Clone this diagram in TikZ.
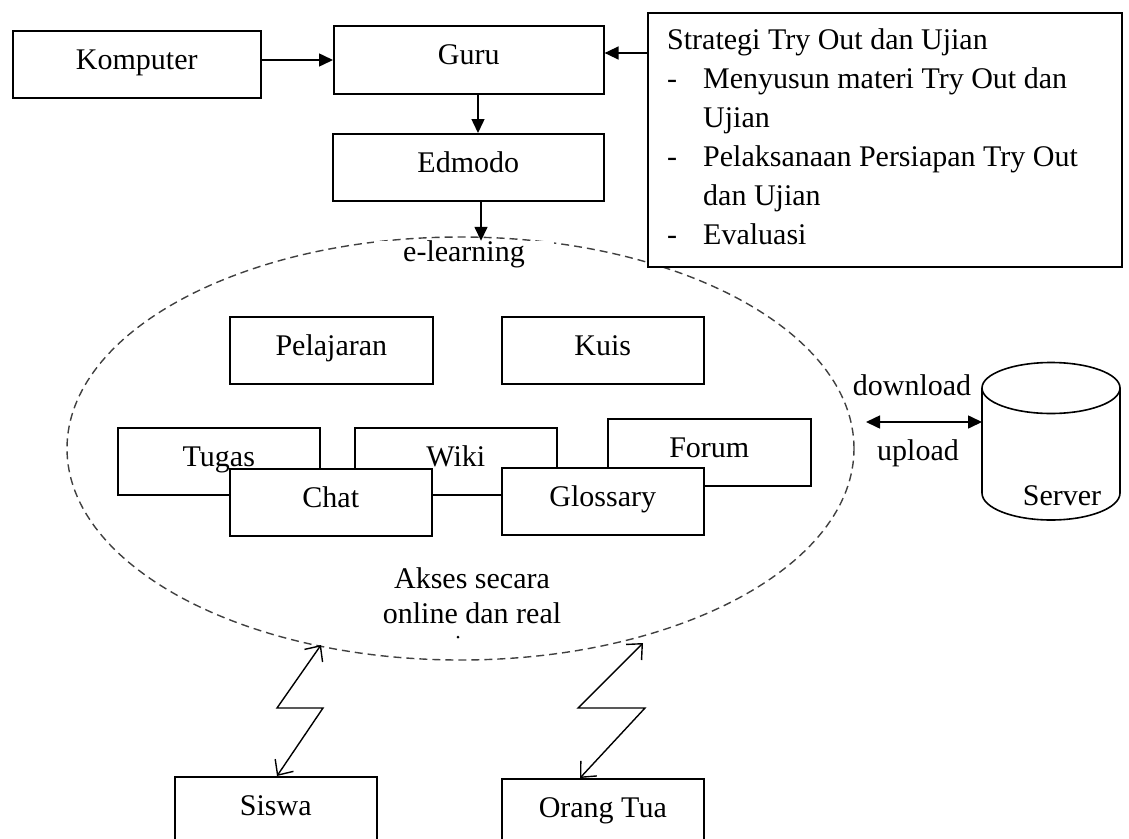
\documentclass[tikz,border=0pt]{standalone}
\usepackage{fontspec}
\setmainfont{Liberation Serif}
\usetikzlibrary{arrows.meta}
\begin{document}
\begin{tikzpicture}[x=1pt,y=-1pt,
  font=\fontsize{30}{36}\selectfont,
  bx/.style={draw, line width=1.6pt, fill=white, inner sep=0pt, anchor=north west,
             text height=20pt, text depth=10pt, minimum height=67pt},
  arr/.style={line width=1.5pt, -{Triangle[length=14pt,width=13pt]}},
  dbl/.style={line width=1.6pt, {Triangle[length=14pt,width=13pt]}-{Triangle[length=14pt,width=13pt]}},
  zz/.style={line width=1.4pt, {Straight Barb[length=12pt,width=22pt]}-{Straight Barb[length=12pt,width=22pt]}},
  st/.style={anchor=base west, inner sep=0pt},
  lbl/.style={anchor=base, inner sep=0pt}]
\useasboundingbox (0,0) rectangle (1129,838);
\clip (0,0) rectangle (1129,838);
% e-learning area
\draw[black!75, line width=1.4pt, dash pattern=on 8pt off 5pt]
  (460.5,448.5) ellipse [x radius=393.5pt, y radius=211.5pt];
\node[fill=white, inner sep=0pt, minimum width=180pt, text height=20pt, text depth=8pt, anchor=base] (elearn) at (464,261) {e-learning};
% top boxes
\node[bx, minimum width=248pt] (komp) at (12,30) {Komputer};
\node[bx, minimum width=270pt, minimum height=68pt] (guru) at (333,25) {Guru};
\node[bx, minimum width=271pt] (edmodo) at (332,133) {Edmodo};
\node[draw, line width=1.6pt, fill=white, anchor=north west, minimum width=474pt, minimum height=254pt, inner sep=0pt] (strat) at (647,12) {};
\node[st] (s1) at (667,49) {Strategi Try Out dan Ujian};
\node[st] (d1) at (667,88) {-};
\node[st] (s2) at (703,88) {Menyusun materi Try Out dan};
\node[st] (s3) at (703,127) {Ujian};
\node[st] (d2) at (667,166) {-};
\node[st] (s4) at (703,166) {Pelaksanaan Persiapan Try Out};
\node[st] (s5) at (703,205) {dan Ujian};
\node[st] (d3) at (667,244) {-};
\node[st] (s6) at (703,244) {Evaluasi};
% helper coordinates
\coordinate (cy60) at (0,60);
\coordinate (cy53) at (0,53);
\coordinate (cx478) at (478,0);
\coordinate (cx481) at (481,0);
\draw[arr] (komp.east |- cy60) -- (guru.west |- cy60);
\draw[arr] (strat.west |- cy53) -- (guru.east |- cy53);
\draw[arr] (guru.south -| cx478) -- (edmodo.north -| cx478);
\draw[arr] (edmodo.south -| cx481) -- (elearn.north -| cx481);
% inner boxes
\node[bx, minimum width=203pt] (pel) at (229,316) {Pelajaran};
\node[bx, minimum width=202pt] (kuis) at (501,316) {Kuis};
\node[bx, minimum width=202pt] (tugas) at (117,427) {Tugas};
\node[bx, minimum width=202pt] (wiki) at (354,427) {Wiki};
\node[bx, minimum width=203pt] (forum) at (607,418) {Forum};
\node[bx, minimum width=202pt] (chat) at (229,468) {Chat};
\node[bx, minimum width=202pt] (gloss) at (501,467) {Glossary};
\node[lbl] (ak1) at (472,588) {Akses secara};
\node[lbl] (ak2) at (472,623) {online dan real};
\fill (458,637) circle (1.5pt);
% server
\draw[line width=1.6pt, fill=white] (982,388) -- (982,493)
  arc[start angle=180, end angle=360, x radius=69pt, y radius=27pt] -- (1120,388);
\draw[line width=1.6pt, fill=white] (1051,388) ellipse [x radius=69pt, y radius=25.5pt];
\node[lbl] (srvtxt) at (1062,505) {Server};
\coordinate (srv) at (982,422);
\coordinate (dl) at (866,422);
\draw[dbl] (dl) -- (srv);
\node[lbl] (down) at (912,395) {download};
\node[lbl] (up) at (918,460) {upload};
% bottom boxes
\node[bx, minimum width=202pt] (siswa) at (174,776) {Siswa};
\node[bx, minimum width=202pt] (ortu) at (501,778) {Orang Tua};
\coordinate (zl) at (321,645);
\coordinate (zr) at (643,643);
\coordinate (cx277) at (277,0);
\coordinate (cx580) at (580,0);
\draw[zz] (siswa.north -| cx277) -- (323,708) -- (277,708) -- (zl);
\draw[zz] (ortu.north -| cx580) -- (645,708) -- (578,708) -- (zr);
\end{tikzpicture}
\end{document}
